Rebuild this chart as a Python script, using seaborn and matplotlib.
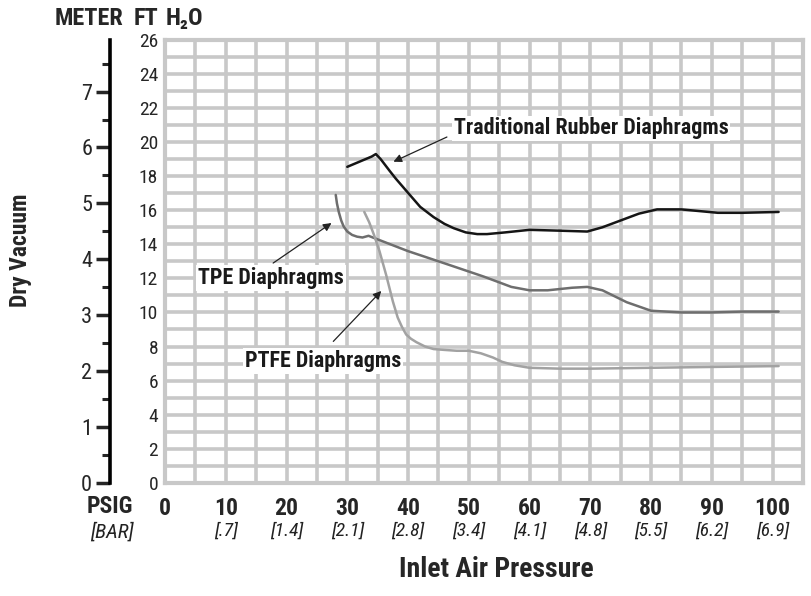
import numpy as np
import pandas as pd
import matplotlib.pyplot as plt
import matplotlib.transforms as mtransforms
from matplotlib.ticker import MultipleLocator
import seaborn as sns

# inlet pressure (psig) vs dry vacuum (ft H2O)
rubber_x = [30, 31, 32, 33, 34, 34.7, 35.5, 37, 38, 40.3, 42, 44.2, 46, 47.5, 49.5, 51.4, 53, 56, 60, 65, 69.5, 72, 75, 78, 81, 85, 88, 91, 95, 101]
rubber_y = [18.55, 18.7, 18.85, 19.0, 19.15, 19.3, 19.0, 18.3, 17.85, 16.9, 16.2, 15.6, 15.2, 14.95, 14.7, 14.6, 14.6, 14.7, 14.85, 14.8, 14.75, 15.0, 15.4, 15.8, 16.05, 16.05, 15.95, 15.85, 15.85, 15.9]

tpe_x = [28.1, 28.3, 28.6, 29.0, 29.4, 30.0, 30.8, 31.6, 32.5, 33.5, 34.2, 40, 46.7, 52.5, 57, 60, 63, 67, 69.5, 72, 76, 80, 85, 90, 95, 101]
tpe_y = [16.9, 16.4, 15.9, 15.4, 15.05, 14.75, 14.55, 14.45, 14.4, 14.5, 14.4, 13.6, 12.8, 12.1, 11.5, 11.3, 11.3, 11.45, 11.5, 11.3, 10.6, 10.1, 10.0, 10.0, 10.05, 10.05]

ptfe_x = [32.8, 33.6, 34.4, 35.3, 36.4, 37.5, 38.3, 39.0, 39.7, 40.5, 41.4, 42.8, 44.2, 46, 48, 50, 52, 54, 55.5, 57.5, 60, 65, 70, 80, 90, 101]
ptfe_y = [15.9, 15.3, 14.55, 13.6, 12.2, 10.65, 9.7, 9.15, 8.7, 8.45, 8.25, 8.0, 7.85, 7.8, 7.75, 7.75, 7.6, 7.35, 7.1, 6.9, 6.75, 6.7, 6.7, 6.75, 6.8, 6.85]

psig_ticks = [0, 10, 20, 30, 40, 50, 60, 70, 80, 90, 100]
bar_labels = ["", "[.7]", "[1.4]", "[2.1]", "[2.8]", "[3.4]", "[4.1]", "[4.8]", "[5.5]", "[6.2]", "[6.9]"]
ft_ticks = list(range(0, 27, 2))
meter_ticks = list(range(0, 8))

sns.set_style("white")
plt.rcParams["font.family"] = ["Roboto Condensed", "Archivo Narrow", "DejaVu Sans"]

fig = plt.figure(figsize=(8.11, 5.96), dpi=100)
ax = fig.add_axes([0.2035, 0.19, 0.7865, 0.743])

grid_col = "#c8c8c8"
ax.set_xlim(0, 105)
ax.set_ylim(0, 26)
ax.xaxis.set_minor_locator(MultipleLocator(5))
ax.set_yticks(ft_ticks)
ax.yaxis.set_minor_locator(MultipleLocator(1))
ax.grid(which="both", color=grid_col, lw=2.6)
ax.set_axisbelow(True)
for s in ax.spines.values():
    s.set_color(grid_col)
    s.set_linewidth(3)
ax.tick_params(which="both", length=0)
ax.tick_params(axis="y", labelsize=14, pad=5)
ax.set_xticks(psig_ticks)
ax.set_xticklabels([str(v) for v in psig_ticks], fontsize=17, fontweight="bold")
ax.tick_params(axis="x", pad=10)

curves = pd.concat([
    pd.DataFrame({"psig": rubber_x, "ft": rubber_y, "kind": "Traditional Rubber Diaphragms"}),
    pd.DataFrame({"psig": tpe_x, "ft": tpe_y, "kind": "TPE Diaphragms"}),
    pd.DataFrame({"psig": ptfe_x, "ft": ptfe_y, "kind": "PTFE Diaphragms"}),
])
colors = {"Traditional Rubber Diaphragms": "#151515", "TPE Diaphragms": "#6e6e6e", "PTFE Diaphragms": "#a2a2a2"}
sns.lineplot(data=curves, x="psig", y="ft", hue="kind", palette=colors, units="kind",
             estimator=None, sort=False, lw=1.8, legend=False, ax=ax)
ax.set_xlabel("")
ax.set_ylabel("")

# bar labels under psig
trans = mtransforms.blended_transform_factory(ax.transData, ax.transAxes)
for x, lab in zip(psig_ticks, bar_labels):
    ax.text(x, -0.108, lab, transform=trans, ha="center", va="center", fontsize=14, style="italic", color="#222222")
ax.text(-0.086, -0.053, "PSIG", transform=ax.transAxes, ha="center", va="center", fontsize=17, fontweight="bold")
ax.text(-0.083, -0.11, "[BAR]", transform=ax.transAxes, ha="center", va="center", fontsize=15, style="italic", color="#222222")

# meter scale
sec = ax.secondary_yaxis(-0.086, functions=(lambda f: f / 3.28084, lambda m: m * 3.28084))
sec.set_yticks(meter_ticks)
sec.yaxis.set_minor_locator(MultipleLocator(0.5))
sec.spines["left"].set_linewidth(2.6)
sec.spines["left"].set_color("black")
sec.tick_params(which="major", length=10, width=2.5, labelsize=16, pad=3)
sec.tick_params(which="minor", length=6, width=2.2)

# annotations
ann = dict(fontsize=15.8, fontweight="bold", color="#1a1a1a", ha="left", va="center",
           bbox=dict(fc="white", ec="none", pad=1.5))
arrow = dict(arrowstyle="-|>", color="#222222", lw=0.9, mutation_scale=12, shrinkA=0, shrinkB=0)
ax.text(47.5, 20.8, "Traditional Rubber Diaphragms", **ann)
ax.annotate("", xy=(37.6, 18.85), xytext=(46.4, 20.3), arrowprops=arrow)
ax.text(5.4, 12.0, "TPE Diaphragms", **ann)
ax.annotate("", xy=(27.4, 15.25), xytext=(17.8, 12.9), arrowprops=arrow)
ax.text(13.2, 7.15, "PTFE Diaphragms", **ann)
ax.annotate("", xy=(35.6, 11.26), xytext=(27.7, 8.3), arrowprops=arrow)

fig.text(0.11, 0.969, "METER", ha="center", va="center", fontsize=17.5, fontweight="bold")
fig.text(0.18, 0.969, "FT", ha="center", va="center", fontsize=17.5, fontweight="bold")
fig.text(0.228, 0.969, "H₂O", ha="center", va="center", fontsize=17.5, fontweight="bold")
fig.text(0.0247, 0.58, "Dry Vacuum", rotation=90, ha="center", va="center", fontsize=17, fontweight="bold")
fig.text(0.612, 0.044, "Inlet Air Pressure", ha="center", va="center", fontsize=20, fontweight="bold")

fig.savefig("out.png", dpi=100)
